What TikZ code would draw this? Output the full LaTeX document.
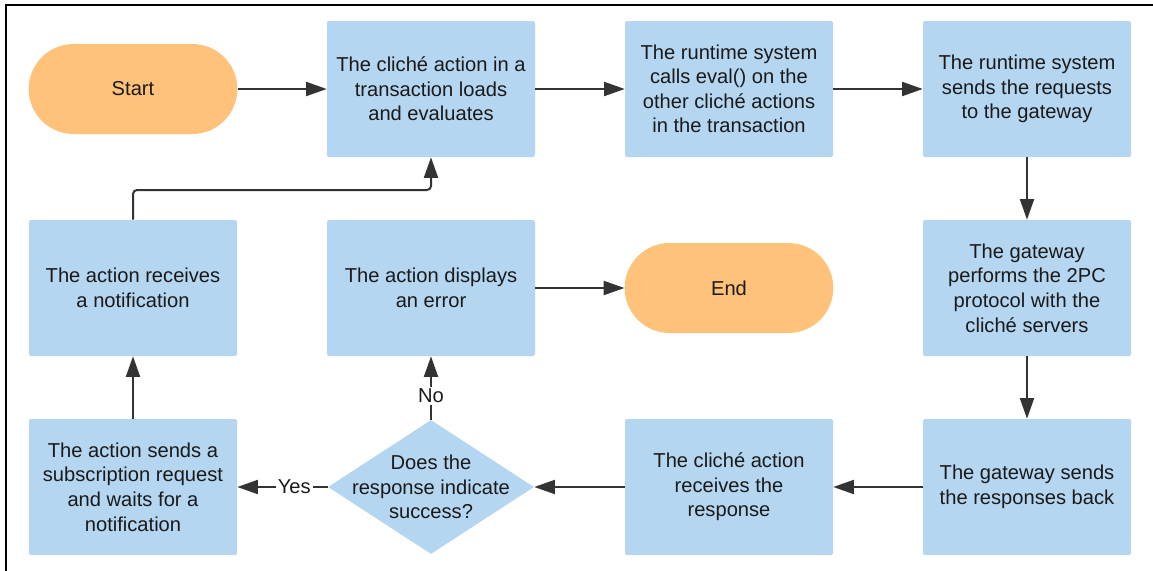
\documentclass[tikz,border=0pt]{standalone}
\usepackage{fontspec}
\setmainfont{Liberation Sans}
\usetikzlibrary{shapes.geometric,arrows.meta}
\definecolor{boxblue}{RGB}{180,214,240}
\definecolor{termorange}{RGB}{255,194,122}
\definecolor{linegray}{RGB}{51,51,51}
\definecolor{txt}{RGB}{26,26,26}
\tikzset{
  stepbox/.style={rectangle, fill=boxblue, rounded corners=1.5pt, minimum width=156pt,
    minimum height=102pt, inner sep=0pt, align=center, text=txt},
  terminal/.style={rectangle, fill=termorange, rounded corners=33.7pt, minimum width=156.5pt,
    minimum height=67.5pt, inner sep=0pt, align=center, text=txt},
  decision/.style={diamond, fill=boxblue, minimum width=154.5pt, minimum height=100.5pt,
    inner sep=0pt},
  flow/.style={draw=linegray, line width=1.5pt, -{Triangle[length=15.5pt,width=10.5pt]}},
  edgelabel/.style={fill=white, inner sep=1.5pt, text=txt}
}
\begin{document}
\begin{tikzpicture}[x=0.75pt,y=-0.75pt,font=\fontsize{15.1}{18.4}\selectfont]
\useasboundingbox (0,0) rectangle (1153,571);
% outer frame (top and left edges)
\draw[line width=1.5pt, black] (5.5,571) -- (5.5,4.5) -- (1153,4.5);

% top row
\node[terminal] (start) at (133,89) {Start};
\node[stepbox] (load) at (431,89) {The cliché action in a\\transaction loads\\and evaluates};
\node[stepbox] (eval) at (729,89) {The runtime system\\calls eval() on the\\other cliché actions\\in the transaction};
\node[stepbox] (send) at (1027,89) {The runtime system\\sends the requests\\to the gateway};

% middle row
\node[stepbox] (notif) at (133,288) {The action receives\\a notification};
\node[stepbox] (error) at (431,288) {The action displays\\an error};
\node[terminal] (end) at (729,288) {End};
\node[stepbox] (twopc) at (1027,288) {The gateway\\performs the 2PC\\protocol with the\\cliché servers};

% bottom row
\node[stepbox] (subscr) at (133,487) {The action sends a\\subscription request\\and waits for a\\notification};
\node[decision] (check) at (431,487) {};
\node[align=center, text=txt] at (check) {Does the\\response indicate\\success?};
\node[stepbox] (recv) at (729,487) {The cliché action\\receives the\\response};
\node[stepbox] (back) at (1027,487) {The gateway sends\\the responses back};

% connectors
\draw[flow] (start) -- (load);
\draw[flow] (load) -- (eval);
\draw[flow] (eval) -- (send);
\draw[flow] (send) -- (twopc);
\draw[flow] (twopc) -- (back);
\draw[flow] (back) -- (recv);
\draw[flow] (recv) -- (check);
\draw[flow] (check) -- node[edgelabel, pos=0.37] {Yes} (subscr);
\draw[flow] (check) -- node[edgelabel, pos=0.38] {No} (error);
\draw[flow] (error) -- (end);
\draw[flow] (subscr) -- (notif);
\draw[flow, rounded corners=3pt] (notif.north) |- (431,190) -- (load.south);
\end{tikzpicture}
\end{document}
